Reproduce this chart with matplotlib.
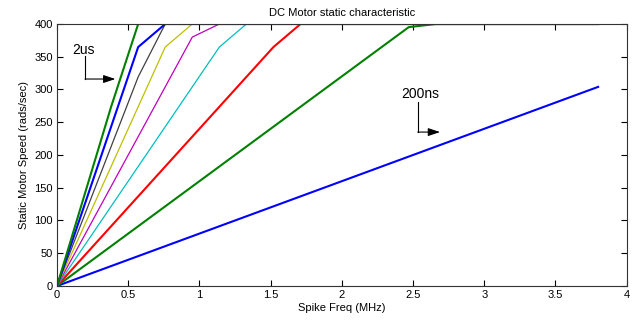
import matplotlib
matplotlib.use("Agg")
import matplotlib.pyplot as plt

plt.rcParams['font.family'] = ['Liberation Sans', 'DejaVu Sans']
plt.rcParams['font.size'] = 8

# spike frequency sample points (MHz)
freq_mhz = [0, 0.19, 0.38, 0.57, 0.76, 0.95, 1.14, 1.33, 1.52, 1.71, 1.9,
            2.09, 2.28, 2.47, 2.66, 2.85, 3.04, 3.23, 3.42, 3.61, 3.8]

# motor speed for each pulse width (rads/sec), shallowest first
speed_200ns = [0, 15.2, 30.4, 45.6, 60.8, 76, 91.2, 106.4, 121.6, 136.8, 152,
               167.2, 182.4, 197.6, 212.8, 228, 243.2, 258.4, 273.6, 288.8, 304]
speed_400ns = [0, 30.4, 60.8, 91.2, 121.6, 152, 182.4, 212.8, 243.2, 273.6, 304,
               334.4, 364.8, 395.2, 400, 400, 400, 400, 400, 400, 400]
speed_600ns = [0, 45.6, 91.2, 136.8, 182.4, 228, 273.6, 319.2, 364.8, 400, 400,
               400, 400, 400, 400, 400, 400, 400, 400, 400, 400]
speed_800ns = [0, 60.8, 121.6, 182.4, 243.2, 304, 364.8, 400, 400, 400, 400,
               400, 400, 400, 400, 400, 400, 400, 400, 400, 400]
speed_1us = [0, 76, 152, 228, 304, 380, 400, 400, 400, 400, 400,
             400, 400, 400, 400, 400, 400, 400, 400, 400, 400]
speed_1200ns = [0, 91.2, 182.4, 273.6, 364.8, 400, 400, 400, 400, 400, 400,
                400, 400, 400, 400, 400, 400, 400, 400, 400, 400]
speed_1400ns = [0, 106.4, 212.8, 319.2, 400, 400, 400, 400, 400, 400, 400,
                400, 400, 400, 400, 400, 400, 400, 400, 400, 400]
speed_1600ns = [0, 121.6, 243.2, 364.8, 400, 400, 400, 400, 400, 400, 400,
                400, 400, 400, 400, 400, 400, 400, 400, 400, 400]
speed_2us = [0, 136.8, 273.6, 400, 400, 400, 400, 400, 400, 400, 400,
             400, 400, 400, 400, 400, 400, 400, 400, 400, 400]

series = [speed_200ns, speed_400ns, speed_600ns, speed_800ns, speed_1us,
          speed_1200ns, speed_1400ns, speed_1600ns, speed_2us]
colors = ['#0000ff', '#008000', '#ff0000', '#00bfbf', '#bf00bf',
          '#bfbf00', '#404040', '#0000ff', '#008000']
widths = [1.5, 1.5, 1.5, 0.9, 0.9, 0.9, 0.9, 1.5, 1.5]

fig = plt.figure(figsize=(6.39, 3.27), dpi=100)
ax = fig.add_axes([0.0892, 0.1254, 0.8914, 0.8012])

for s, c, w in zip(series, colors, widths):
    ax.plot(freq_mhz, s, color=c, lw=w)

ax.set_xlim(0, 4)
ax.set_ylim(0, 400)
ax.set_xticks([0, 0.5, 1, 1.5, 2, 2.5, 3, 3.5, 4])
ax.set_xticklabels(['0', '0.5', '1', '1.5', '2', '2.5', '3', '3.5', '4'])
ax.set_yticks(range(0, 401, 50))
ax.tick_params(direction='in', top=True, right=True, length=4, width=0.8, pad=3)
for sp in ax.spines.values():
    sp.set_linewidth(0.8)
    sp.set_color('#333333')

ax.set_title("DC Motor static characteristic", fontsize=8, pad=6)
ax.set_xlabel("Spike Freq (MHz)", fontsize=8, labelpad=2)
ax.set_ylabel("Static Motor Speed (rads/sec)", fontsize=8, labelpad=4)

# labels with elbow arrows
ax.text(0.105, 360, "2us", fontsize=10, ha='left', va='center')
ax.plot([0.197, 0.197], [351, 316], color='k', lw=0.8)
ax.annotate('', xy=(0.41, 316), xytext=(0.197, 316),
            arrowprops=dict(arrowstyle='-|>,head_length=0.9,head_width=0.3',
                            color='k', lw=0.8, shrinkA=0, shrinkB=0))

ax.text(2.42, 293, "200ns", fontsize=10, ha='left', va='center')
ax.plot([2.533, 2.533], [281, 235], color='k', lw=0.8)
ax.annotate('', xy=(2.69, 235), xytext=(2.533, 235),
            arrowprops=dict(arrowstyle='-|>,head_length=0.9,head_width=0.3',
                            color='k', lw=0.8, shrinkA=0, shrinkB=0))

fig.savefig("out.png", dpi=100)
